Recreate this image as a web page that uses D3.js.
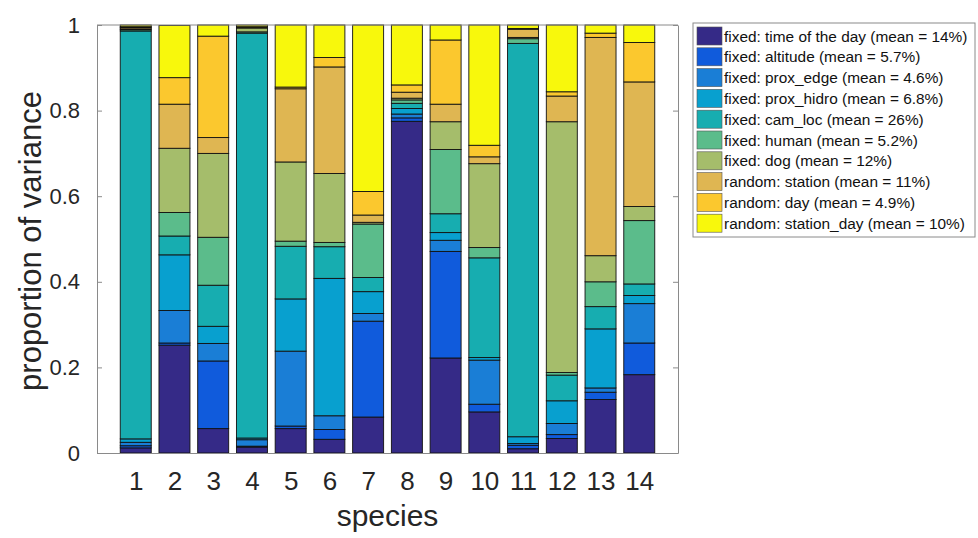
<!DOCTYPE html>
<html>
<head>
<meta charset="utf-8">
<script src="https://cdn.jsdelivr.net/npm/d3@7"></script>
<style>
  body { margin: 0; background: #fff; }
  svg { display: block; font-family: "Liberation Sans", Arial, sans-serif; }
</style>
</head>
<body>
<svg width="978" height="538"></svg>
<script>

// species on the x axis
var species = [1, 2, 3, 4, 5, 6, 7, 8, 9, 10, 11, 12, 13, 14];

// variance components, bottom to top of each bar
var timeOfDay  = [0.012, 0.252, 0.057, 0.014, 0.057, 0.032, 0.084, 0.775, 0.222, 0.096, 0.010, 0.034, 0.125, 0.183];
var altitude   = [0.005, 0.005, 0.158, 0.002, 0.006, 0.023, 0.224, 0.008, 0.249, 0.018, 0.008, 0.009, 0.017, 0.074];
var proxEdge   = [0.008, 0.076, 0.041, 0.015, 0.175, 0.032, 0.018, 0.009, 0.026, 0.103, 0.004, 0.026, 0.010, 0.092];
var proxHidro  = [0.008, 0.130, 0.040, 0.004, 0.122, 0.321, 0.051, 0.013, 0.018, 0.006, 0.016, 0.053, 0.138, 0.019];
var camLoc     = [0.953, 0.044, 0.096, 0.946, 0.123, 0.074, 0.033, 0.012, 0.044, 0.233, 0.919, 0.060, 0.052, 0.027];
var human      = [0.003, 0.055, 0.112, 0.003, 0.012, 0.010, 0.125, 0.008, 0.150, 0.024, 0.011, 0.006, 0.058, 0.148];
var dog        = [0.002, 0.150, 0.196, 0.009, 0.185, 0.161, 0.004, 0.004, 0.065, 0.196, 0.003, 0.586, 0.061, 0.033];
var station    = [0.003, 0.103, 0.037, 0.002, 0.171, 0.249, 0.017, 0.014, 0.041, 0.016, 0.019, 0.060, 0.510, 0.291];
var day        = [0.002, 0.062, 0.237, 0.001, 0.004, 0.022, 0.055, 0.017, 0.150, 0.027, 0.002, 0.010, 0.010, 0.092];
var stationDay = [0.004, 0.122, 0.026, 0.004, 0.145, 0.076, 0.389, 0.140, 0.035, 0.281, 0.008, 0.156, 0.019, 0.041];

var seriesValues = [timeOfDay, altitude, proxEdge, proxHidro, camLoc, human, dog, station, day, stationDay];

var seriesLabels = [
  "fixed: time of the day (mean = 14%)",
  "fixed: altitude (mean = 5.7%)",
  "fixed: prox_edge (mean = 4.6%)",
  "fixed: prox_hidro (mean = 6.8%)",
  "fixed: cam_loc (mean = 26%)",
  "fixed: human (mean = 5.2%)",
  "fixed: dog (mean = 12%)",
  "random: station (mean = 11%)",
  "random: day (mean = 4.9%)",
  "random: station_day (mean = 10%)"
];

var colors = ["#352a87", "#105bdc", "#1a7ed6", "#08a0cf", "#17adb0",
              "#5bbc8b", "#a5bd6b", "#dfb652", "#fbc82e", "#f8f80c"];

var yTicks = [0, 0.2, 0.4, 0.6, 0.8, 1];

// build rows for d3.stack
var rows = species.map(function(s, i){
  var row = { species: s };
  seriesLabels.forEach(function(lab, k){ row[k] = seriesValues[k][i]; });
  return row;
});
var keys = seriesLabels.map(function(d, k){ return k; });
var stacked = d3.stack().keys(keys)(rows);

var svg = d3.select("svg");
// (don't call it "top": that's window.top)
var plotL = 97, plotR = 678, plotT = 25, plotB = 453;

var x = d3.scaleLinear().domain([0, 15]).range([plotL, plotR]);
var y = d3.scaleLinear().domain([0, 1]).range([plotB, plotT]);
var barW = x(0.8) - x(0);

// bars
svg.append("g")
  .selectAll("g")
  .data(stacked)
  .enter().append("g")
    .attr("fill", function(d){ return colors[d.key]; })
  .selectAll("rect")
  .data(function(d){ return d; })
  .enter().append("rect")
    .attr("x", function(d){ return x(d.data.species) - barW / 2; })
    .attr("y", function(d){ return y(d[1]); })
    .attr("width", barW)
    .attr("height", function(d){ return y(d[0]) - y(d[1]); })
    .attr("stroke", "#111")
    .attr("stroke-width", 0.9);

// axes (ticks point inward, like matlab)
var axisColor = "#8a8a8a";
var yAxisL = svg.append("g")
  .attr("transform", "translate(" + plotL + ",0)")
  .call(d3.axisLeft(y).tickValues(yTicks).tickSizeInner(-5).tickSizeOuter(0)
        .tickPadding(17).tickFormat(d3.format("")));
yAxisL.select(".domain").attr("stroke", axisColor);
yAxisL.selectAll("line").attr("stroke", axisColor);
yAxisL.selectAll("text").attr("font-size", 22).attr("fill", "#262626")
  .attr("font-family", "Liberation Sans, Arial, sans-serif");

var yAxisR = svg.append("g")
  .attr("transform", "translate(" + plotR + ",0)")
  .call(d3.axisRight(y).tickValues(yTicks).tickSizeInner(-5).tickSizeOuter(0).tickFormat(""));
yAxisR.select(".domain").attr("stroke", axisColor);
yAxisR.selectAll("line").attr("stroke", axisColor);

var xAxisB = svg.append("g")
  .attr("transform", "translate(0," + plotB + ")")
  .call(d3.axisBottom(x).tickValues(species).tickSizeInner(0).tickSizeOuter(0)
        .tickPadding(19).tickFormat(d3.format("d")));
xAxisB.select(".domain").attr("stroke", axisColor);
xAxisB.selectAll("text").attr("font-size", 26).attr("fill", "#262626")
  .attr("font-family", "Liberation Sans, Arial, sans-serif");

svg.append("line")
  .attr("x1", plotL).attr("x2", plotR).attr("y1", plotT).attr("y2", plotT)
  .attr("stroke", axisColor);

// axis titles
svg.append("text")
  .attr("x", (plotL + plotR) / 2).attr("y", 526)
  .attr("text-anchor", "middle")
  .attr("font-size", 30).attr("fill", "#262626")
  .text("species");

svg.append("text")
  .attr("transform", "translate(41," + ((plotT + plotB) / 2 + 2) + ") rotate(-90)")
  .attr("text-anchor", "middle")
  .attr("font-size", 31).attr("fill", "#262626")
  .text("proportion of variance");

// legend
var lg = svg.append("g").attr("transform", "translate(693,23)");
lg.append("rect")
  .attr("width", 282).attr("height", 214)
  .attr("fill", "#fff").attr("stroke", "#8a8a8a");

var item = lg.selectAll("g.item")
  .data(seriesLabels)
  .enter().append("g")
    .attr("class", "item")
    .attr("transform", function(d, i){ return "translate(4," + (4 + i * 20.8) + ")"; });

item.append("rect")
  .attr("width", 25).attr("height", 18)
  .attr("fill", function(d, i){ return colors[i]; })
  .attr("stroke", "#555").attr("stroke-width", 0.6);

item.append("text")
  .attr("x", 27).attr("y", 14.5)
  .attr("font-size", 15.4).attr("fill", "#111")
  .text(function(d){ return d; });

</script>
</body>
</html>
